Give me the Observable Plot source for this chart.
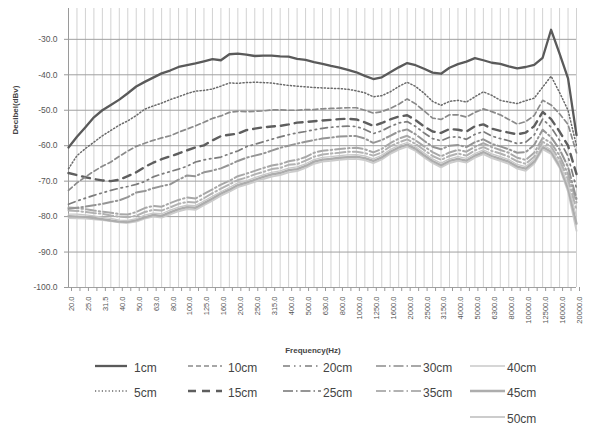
<!DOCTYPE html>
<html><head><meta charset="utf-8">
<script src="https://cdn.jsdelivr.net/npm/d3@7"></script>
<script src="https://cdn.jsdelivr.net/npm/@observablehq/plot@0.6"></script>
<style>
body{margin:0;background:#fff;}
#wrap{position:relative;width:593px;height:435px;font-family:"Liberation Sans",Arial,sans-serif;overflow:hidden;}
#chart{position:absolute;left:0;top:0;}
#ytitle{position:absolute;left:15px;top:110px;transform:translate(-50%,-50%) rotate(-90deg);font-size:8px;font-weight:bold;color:#444;white-space:nowrap;}
#xtitle{position:absolute;left:313px;top:350px;transform:translate(-50%,-50%);font-size:8px;font-weight:bold;color:#444;white-space:nowrap;}
#legend{position:absolute;left:0;top:340px;}
</style></head>
<body><div id="wrap"><div id="chart"></div><div id="ytitle">Decibel(dBv)</div><div id="xtitle">Frequency(Hz)</div><div id="legend"></div></div>
<script>
const freqs = [20,22.4,25,28,31.5,35.5,40,45,50,56,63,71,80,90,100,112,125,140,160,180,200,224,250,280,315,355,400,450,500,560,630,710,800,900,1000,1120,1250,1400,1600,1800,2000,2240,2500,2800,3150,3550,4000,4500,5000,5600,6300,7100,8000,9000,10000,11200,12500,14000,16000,18000,20000];
const labelFreqs = [20,25,31.5,40,50,63,80,100,125,160,200,250,315,400,500,630,800,1000,1250,1600,2000,2500,3150,4000,5000,6300,8000,10000,12500,16000,20000];
const tickLabels = ["20.0","25.0","31.5","40.0","50.0","63.0","80.0","100.0","125.0","160.0","200.0","250.0","315.0","400.0","500.0","630.0","800.0","1000.0","1250.0","1600.0","2000.0","2500.0","3150.0","4000.0","5000.0","6300.0","8000.0","10000.0","12500.0","16000.0","20000.0"];
const yTicks = [-30,-40,-50,-60,-70,-80,-90,-100];

const cm1 = [-60.5,-57.5,-54.8,-52.0,-50.0,-48.5,-47.0,-45.2,-43.3,-42.0,-40.8,-39.6,-38.8,-37.8,-37.3,-36.8,-36.2,-35.6,-35.9,-34.2,-34.0,-34.3,-34.7,-34.6,-34.6,-34.8,-34.9,-35.5,-35.8,-36.4,-36.9,-37.5,-38.0,-38.6,-39.3,-40.3,-41.2,-40.7,-39.3,-37.9,-36.7,-37.3,-38.3,-39.4,-39.7,-38.0,-37.0,-36.3,-35.3,-35.9,-36.6,-36.9,-37.6,-38.2,-37.8,-37.2,-35.2,-27.3,-34.0,-41.0,-57.0];
const cm5 = [-66.5,-62.8,-60.8,-59.0,-57.2,-55.7,-54.2,-53.0,-51.5,-49.7,-48.8,-48.0,-47.0,-46.2,-45.3,-44.6,-44.4,-44.0,-43.2,-42.3,-42.4,-42.2,-42.1,-42.2,-42.3,-42.7,-43.0,-43.2,-43.4,-43.6,-43.7,-43.8,-43.9,-44.1,-44.5,-45.1,-46.2,-45.9,-44.8,-43.3,-42.1,-43.3,-45.2,-47.5,-48.6,-47.5,-47.2,-47.7,-46.2,-44.8,-45.8,-47.2,-47.7,-48.1,-47.3,-46.6,-43.5,-40.4,-45.0,-50.0,-60.0];
const cm10 = [-72.6,-70.5,-68.8,-67.2,-65.8,-64.6,-63.0,-61.5,-60.2,-59.3,-58.5,-57.8,-57.2,-56.2,-55.3,-54.4,-53.4,-52.3,-51.6,-50.6,-50.3,-50.4,-50.3,-50.2,-49.9,-49.9,-50.0,-50.0,-49.8,-49.8,-49.6,-49.5,-49.4,-49.3,-49.3,-50.0,-50.8,-50.4,-49.5,-48.3,-46.8,-48.2,-50.2,-52.2,-52.6,-51.3,-51.3,-51.9,-50.6,-49.6,-50.4,-51.3,-52.6,-53.9,-53.2,-51.5,-47.2,-48.5,-51.0,-54.0,-62.0];
const cm15 = [-67.7,-68.3,-68.9,-69.4,-69.8,-70.0,-69.6,-68.6,-67.5,-66.0,-64.8,-63.8,-63.0,-62.2,-61.3,-60.5,-59.9,-58.5,-57.3,-56.9,-56.6,-55.6,-55.2,-54.8,-54.6,-54.4,-54.0,-53.5,-53.3,-53.1,-52.9,-52.7,-52.5,-52.4,-52.6,-53.4,-54.4,-53.6,-52.6,-51.8,-51.4,-52.8,-54.6,-56.0,-56.4,-55.3,-55.5,-56.0,-54.5,-54.0,-55.2,-55.8,-56.3,-56.8,-56.3,-54.5,-50.5,-52.5,-56.0,-60.0,-68.0];
const cm20 = [-76.5,-75.6,-74.8,-74.0,-73.3,-72.6,-72.0,-71.5,-70.9,-70.1,-68.8,-68.0,-67.3,-66.6,-65.8,-64.6,-64.0,-63.6,-63.2,-62.3,-61.5,-60.3,-59.6,-58.9,-58.2,-57.5,-56.9,-56.4,-56.0,-55.5,-55.1,-54.8,-54.6,-54.5,-54.6,-55.4,-56.6,-55.8,-54.6,-53.6,-53.2,-54.6,-56.4,-58.0,-58.6,-57.6,-57.5,-58.2,-56.8,-56.0,-57.3,-58.0,-58.6,-59.4,-59.0,-57.0,-52.5,-54.8,-58.5,-63.0,-72.0];
const cm25 = [-77.8,-77.5,-77.2,-76.8,-76.4,-75.9,-75.4,-74.5,-73.2,-72.8,-72.0,-71.4,-70.9,-69.6,-68.4,-68.6,-67.5,-67.0,-66.4,-65.4,-64.3,-63.4,-62.8,-62.2,-61.4,-60.6,-60.0,-59.4,-58.9,-58.4,-58.0,-57.7,-57.4,-57.3,-57.3,-58.0,-59.2,-58.4,-57.2,-56.0,-55.4,-56.8,-58.6,-60.3,-61.0,-60.0,-59.8,-60.4,-59.0,-58.2,-59.5,-60.2,-61.0,-62.0,-61.8,-59.8,-55.5,-57.6,-61.0,-66.0,-75.0];
const cm30 = [-77.4,-77.6,-77.9,-78.3,-78.6,-78.9,-79.3,-79.4,-78.7,-77.6,-77.0,-77.2,-76.2,-75.3,-74.6,-74.9,-73.6,-72.3,-71.0,-69.9,-68.6,-67.9,-67.1,-66.3,-65.6,-65.2,-64.4,-64.0,-63.2,-62.0,-61.4,-61.2,-60.9,-60.7,-60.6,-61.0,-61.9,-60.9,-59.3,-58.0,-57.2,-58.5,-60.2,-61.8,-63.0,-61.9,-61.2,-61.7,-60.3,-59.3,-60.4,-61.2,-62.0,-63.4,-64.0,-62.0,-57.8,-59.2,-62.8,-68.0,-76.0];
const cm35 = [-78.3,-78.4,-78.7,-79.0,-79.2,-79.7,-80.0,-80.2,-79.8,-78.7,-78.1,-78.3,-77.4,-76.4,-75.9,-76.0,-74.8,-73.4,-72.1,-70.9,-69.7,-69.0,-68.1,-67.4,-66.6,-66.3,-65.4,-65.2,-64.2,-63.1,-62.5,-62.2,-62.0,-61.7,-61.7,-62.1,-62.8,-61.9,-60.2,-59.1,-58.2,-59.5,-61.2,-62.9,-64.0,-62.9,-62.2,-62.8,-61.3,-60.4,-61.5,-62.2,-63.1,-64.4,-65.1,-63.1,-58.9,-60.3,-64.0,-69.5,-78.0];
const cm40 = [-79.3,-79.3,-79.5,-79.8,-80.2,-80.5,-81.0,-81.1,-80.6,-79.6,-79.0,-79.2,-78.2,-77.3,-76.8,-76.9,-75.6,-74.3,-73.0,-71.8,-70.5,-69.9,-69.0,-68.2,-67.5,-67.1,-66.3,-66.0,-65.1,-63.9,-63.3,-63.1,-62.8,-62.6,-62.5,-62.9,-63.7,-62.7,-61.1,-59.9,-59.1,-60.3,-62.1,-63.7,-64.9,-63.7,-63.1,-63.6,-62.2,-61.2,-62.3,-63.1,-63.9,-65.3,-65.9,-63.9,-59.8,-61.1,-65.0,-71.0,-80.0];
const cm45 = [-79.9,-80.0,-80.1,-80.4,-80.7,-81.1,-81.4,-81.5,-81.0,-80.2,-79.5,-79.8,-78.8,-77.9,-77.3,-77.5,-76.2,-74.9,-73.5,-72.4,-71.1,-70.4,-69.6,-68.8,-68.1,-67.7,-66.9,-66.6,-65.7,-64.5,-63.9,-63.7,-63.4,-63.2,-63.1,-63.5,-64.3,-63.3,-61.7,-60.5,-59.7,-60.9,-62.7,-64.3,-65.5,-64.3,-63.7,-64.2,-62.8,-61.8,-62.9,-63.7,-64.5,-65.9,-66.5,-64.5,-60.4,-61.7,-65.6,-72.0,-82.0];
const cm50 = [-80.4,-80.5,-80.6,-80.8,-81.0,-81.3,-81.6,-81.8,-81.4,-80.6,-80.0,-80.3,-79.4,-78.5,-77.9,-78.1,-76.8,-75.5,-74.1,-73.0,-71.7,-71.0,-70.2,-69.4,-68.7,-68.3,-67.5,-67.2,-66.3,-65.1,-64.5,-64.3,-64.0,-63.8,-63.7,-64.1,-64.9,-63.9,-62.3,-61.1,-60.3,-61.5,-63.3,-64.9,-66.1,-64.9,-64.3,-64.8,-63.4,-62.4,-63.5,-64.3,-65.1,-66.5,-67.1,-65.1,-61.0,-62.3,-66.2,-73.0,-84.0];

const seriesNames = ["1cm","5cm","10cm","15cm","20cm","25cm","30cm","35cm","40cm","45cm","50cm"];
const seriesValues = [cm1,cm5,cm10,cm15,cm20,cm25,cm30,cm35,cm40,cm45,cm50];
const styles = {
  "1cm":  {stroke:"#5a5a5a", w:2.3, dash:null},
  "5cm":  {stroke:"#6a6a6a", w:1.5, dash:"1.2,2.2"},
  "10cm": {stroke:"#8a8a8a", w:1.7, dash:"5,3"},
  "15cm": {stroke:"#5e5e5e", w:2.4, dash:"8,6"},
  "20cm": {stroke:"#7c7c7c", w:1.7, dash:"7,4,1.5,4,1.5,4"},
  "25cm": {stroke:"#959595", w:2.0, dash:"10,3,1.5,3"},
  "30cm": {stroke:"#a8a8a8", w:2.0, dash:"10,3,1.5,3"},
  "35cm": {stroke:"#b2b2b2", w:2.0, dash:"10,3,1.5,3"},
  "40cm": {stroke:"#c8c8c8", w:1.3, dash:null},
  "45cm": {stroke:"#adadad", w:2.3, dash:null},
  "50cm": {stroke:"#cccccc", w:1.8, dash:null}
};

// index-based x positions (categories equally spaced like a category axis)
const idx = new Map(freqs.map((f, i) => [f, i]));
const rows = seriesNames.flatMap((n, k) => seriesValues[k].map((v, i) => ({name: n, freq: freqs[i], db: v})));
const labelMap = new Map(labelFreqs.map((f, k) => [idx.get(f), tickLabels[k]]));
const allIdx = freqs.map(f => idx.get(f));

const lineMarks = seriesNames.slice().reverse().map(n => Plot.line(rows.filter(r => r.name === n), {
  x: d => idx.get(d.freq), y: "db", stroke: styles[n].stroke, strokeWidth: styles[n].w,
  strokeDasharray: styles[n].dash, strokeLinejoin: "round"
}));

const chart = Plot.plot({
  width: 593, height: 340,
  marginLeft: 68, marginRight: 17, marginTop: 8, marginBottom: 53,
  style: {fontFamily: "Liberation Sans, Arial, sans-serif", background: "#fff"},
  x: {type: "linear", domain: [0, freqs.length - 1], label: null},
  y: {domain: [-100, -21.3], label: null},
  marks: [
    Plot.ruleX(allIdx, {stroke: "#d2d2d2", strokeWidth: 1}),
    Plot.ruleY(yTicks, {stroke: "#a0a0a0", strokeWidth: 1}),
    Plot.ruleX([0], {stroke: "#9a9a9a", strokeWidth: 1}),
    Plot.axisY(yTicks, {tickFormat: d => d.toFixed(1), tickSize: 4, tickPadding: 7, fontSize: 8.5, fill: "#555", stroke: "#9a9a9a", label: null}),
    Plot.axisX(allIdx, {tickFormat: d => labelMap.get(d) ?? "", tickRotate: -90, tickSize: 4, tickPadding: 5, fontSize: 7.5, fill: "#555", stroke: "#9a9a9a", label: null, dx: 3}),
    ...lineMarks
  ]
});
document.getElementById("chart").appendChild(chart);

// legend
const legendRows = [["1cm","10cm","20cm","30cm","40cm"],["5cm","15cm","25cm","35cm","45cm"],[null,null,null,null,"50cm"]];
const colSw = [[95,127],[188,222],[283,321],[376,422],[470,505]];
const colTx = [134,228,323,423,507];
const rowY = [26,51,77];
const lsvg = d3.select("#legend").append("svg").attr("width",593).attr("height",95)
  .style("font-family","Liberation Sans, Arial, sans-serif");
legendRows.forEach((row, r) => row.forEach((n, c) => {
  if (!n) return;
  const s = styles[n];
  lsvg.append("line").attr("x1",colSw[c][0]).attr("x2",colSw[c][1]).attr("y1",rowY[r]).attr("y2",rowY[r])
    .attr("stroke",s.stroke).attr("stroke-width",s.w).attr("stroke-dasharray",s.dash);
  lsvg.append("text").attr("x",colTx[c]).attr("y",rowY[r]+2).attr("dy","0.35em").attr("font-size",12).attr("fill","#444").text(n);
}));
</script>
</body></html>
